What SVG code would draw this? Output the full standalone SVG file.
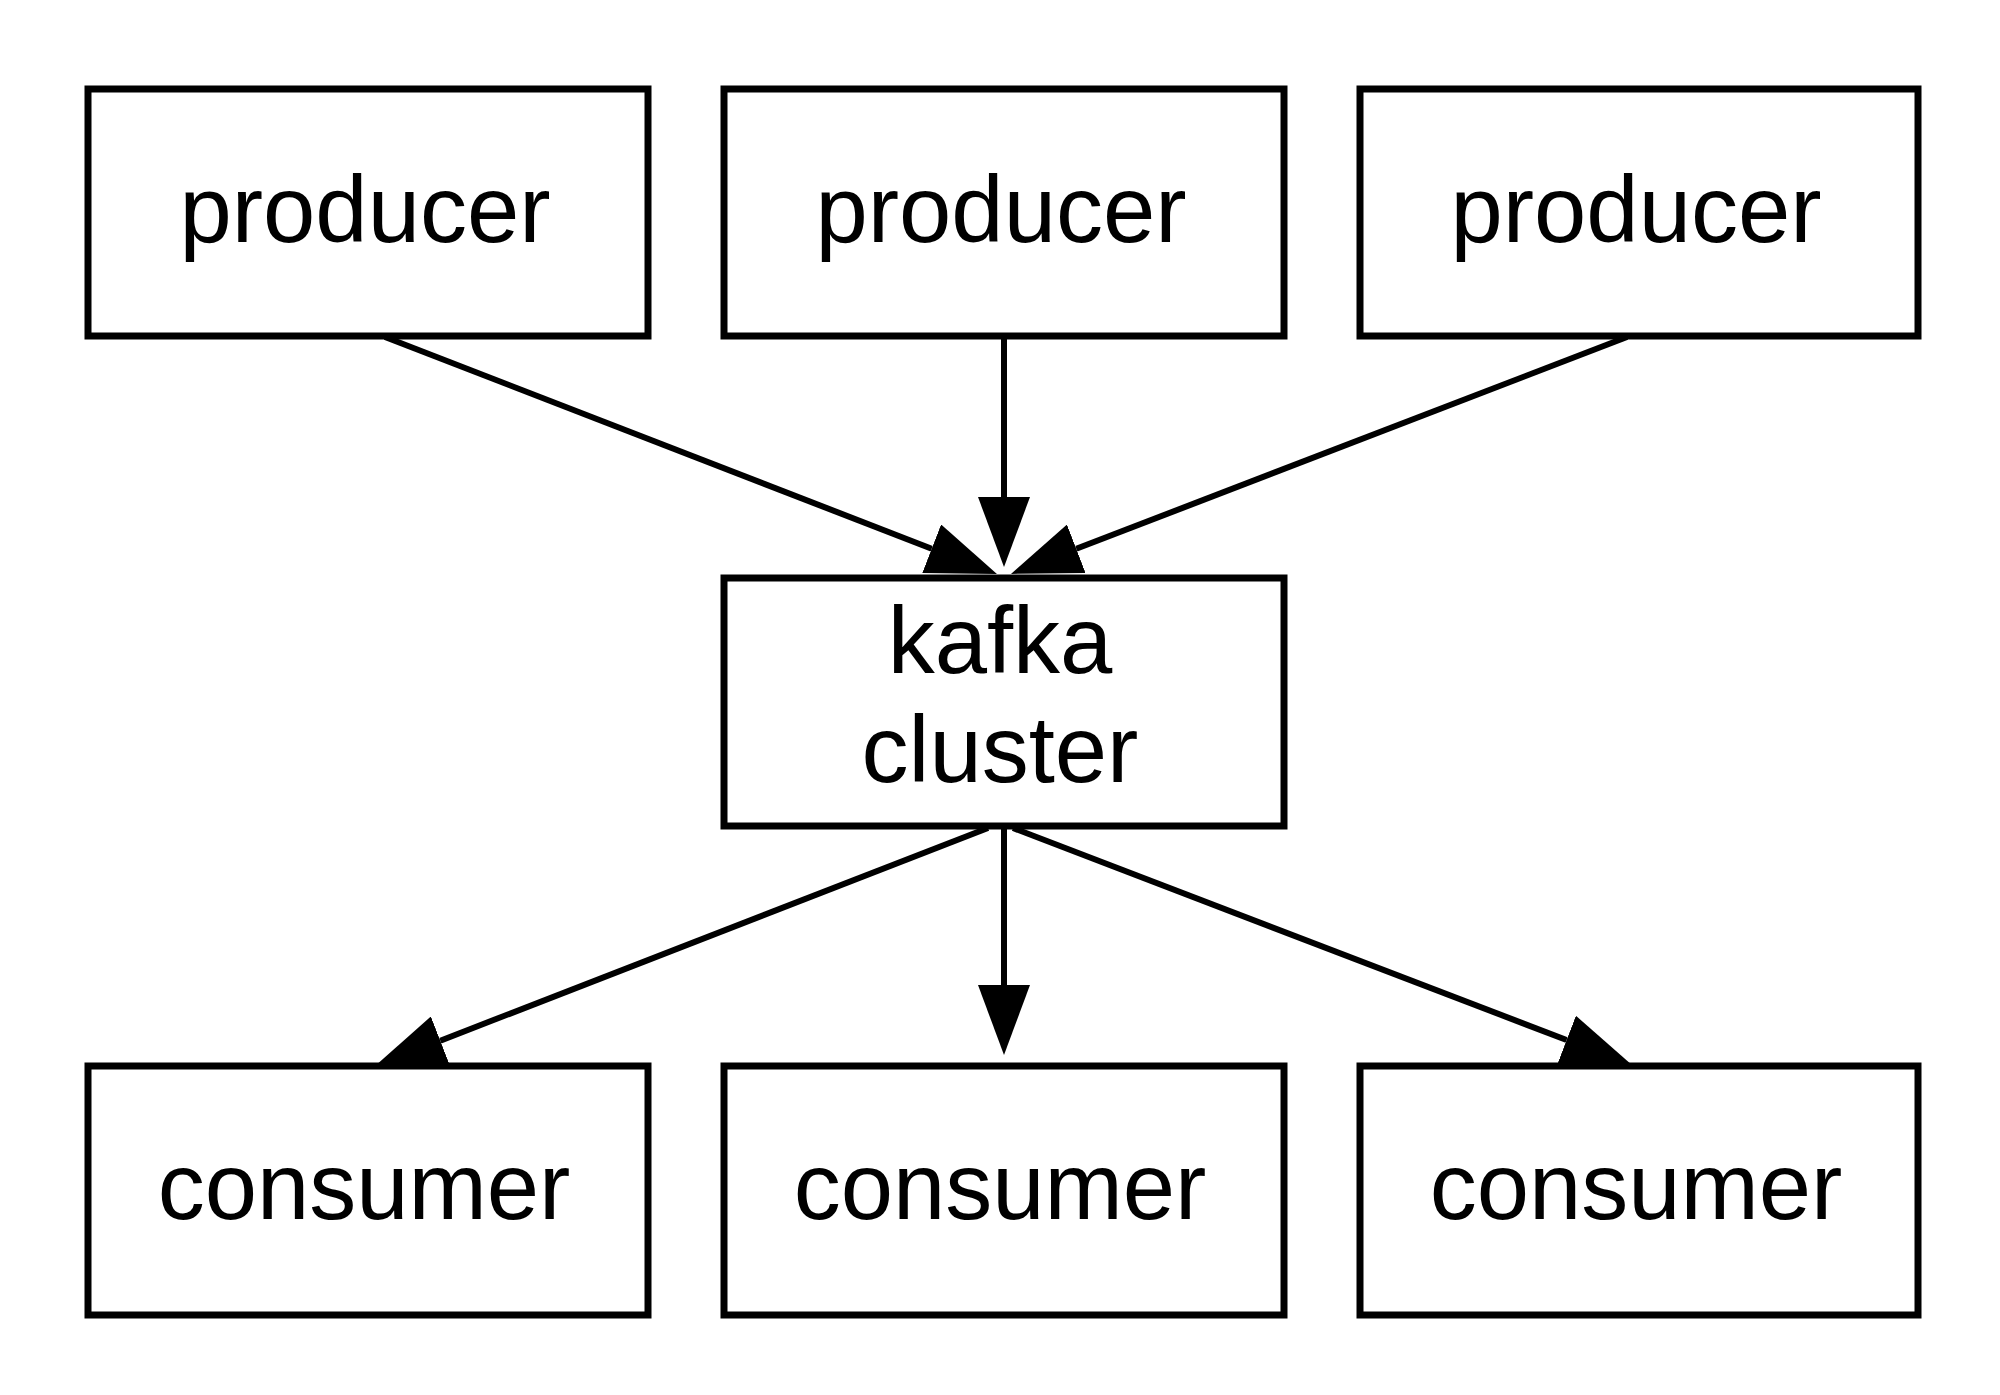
<svg xmlns="http://www.w3.org/2000/svg" width="2000" height="1395" viewBox="0 0 2000 1395">
  <style>
    .box { fill: #ffffff; stroke: #000000; stroke-width: 7; }
    .lbl { font-family: "Liberation Sans", Arial, Helvetica, sans-serif; font-size: 94px; fill: #000000; text-anchor: middle; }
    .edge { fill: none; stroke: #000000; stroke-width: 6; }
  </style>
  <defs>
    <marker id="arrow" viewBox="0 0 70 52" markerUnits="userSpaceOnUse" markerWidth="70" markerHeight="52" refX="0" refY="26" orient="auto">
      <path d="M0,0 L70,26 L0,52 Z" fill="#000000"/>
    </marker>
  </defs>
  <rect width="2000" height="1395" fill="#ffffff"/>

  <g id="producer1">
    <rect class="box" x="88" y="89" width="560" height="247"/>
    <text class="lbl" x="365" y="242">producer</text>
  </g>
  <g id="producer2">
    <rect class="box" x="724" y="89" width="560" height="247"/>
    <text class="lbl" x="1001" y="242">producer</text>
  </g>
  <g id="producer3">
    <rect class="box" x="1360" y="89" width="558" height="247"/>
    <text class="lbl" x="1636" y="242">producer</text>
  </g>

  <g id="kafka">
    <rect class="box" x="724" y="578" width="560" height="248"/>
    <text class="lbl" x="1000" y="673">kafka</text>
    <text class="lbl" x="1000" y="782">cluster</text>
  </g>

  <g id="consumer1">
    <rect class="box" x="88" y="1066" width="560" height="249"/>
    <text class="lbl" x="364" y="1219">consumer</text>
  </g>
  <g id="consumer2">
    <rect class="box" x="724" y="1066" width="560" height="249"/>
    <text class="lbl" x="1000" y="1219">consumer</text>
  </g>
  <g id="consumer3">
    <rect class="box" x="1360" y="1066" width="558" height="249"/>
    <text class="lbl" x="1636" y="1219">consumer</text>
  </g>

  <g id="connectors">
    <path class="edge" d="M385,337 L931.7,548.7" marker-end="url(#arrow)"/>
    <path class="edge" d="M1004,337 L1004,497" marker-end="url(#arrow)"/>
    <path class="edge" d="M1627,337 L1076.3,548.8" marker-end="url(#arrow)"/>
    <path class="edge" d="M988,828 L440.3,1040.7" marker-end="url(#arrow)"/>
    <path class="edge" d="M1004,828 L1004,985" marker-end="url(#arrow)"/>
    <path class="edge" d="M1013,828 L1566.6,1040" marker-end="url(#arrow)"/>
  </g>
</svg>
